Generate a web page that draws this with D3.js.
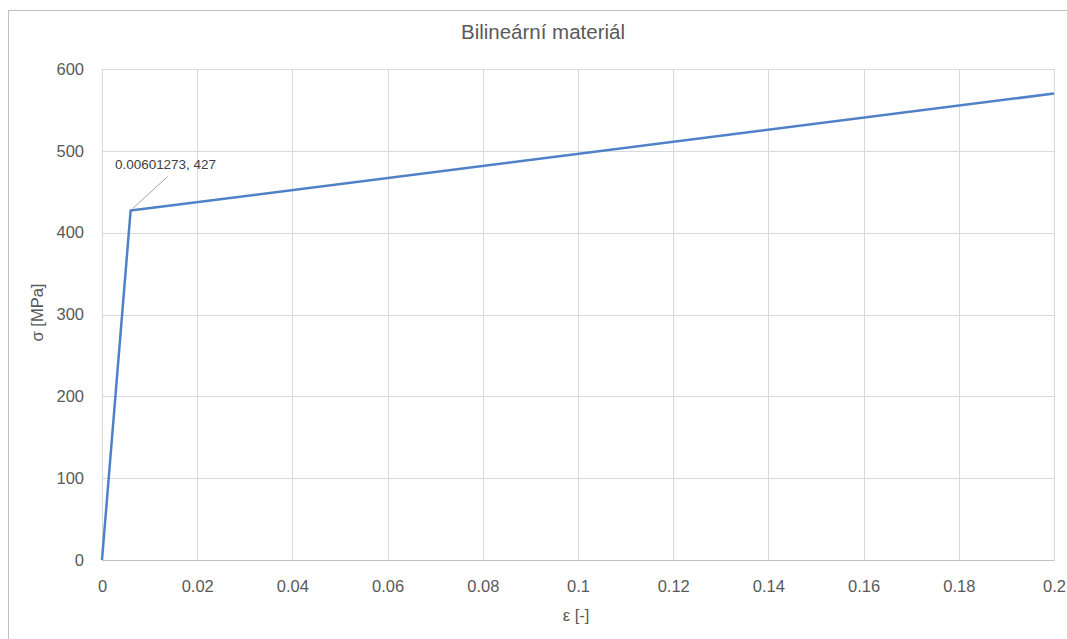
<!DOCTYPE html>
<html>
<head>
<meta charset="utf-8">
<script src="https://cdn.jsdelivr.net/npm/d3@7/dist/d3.min.js"></script>
<style>
  html, body { margin: 0; padding: 0; background: #fff; }
  svg { display: block; font-family: "Liberation Sans", "Open Sans", sans-serif; }
</style>
</head>
<body>
<svg id="chart" width="1067" height="639"></svg>
<script>
// Bilinear material model: strain [-] vs stress [MPa]
const strain = [0, 0.00601273, 0.2];
const stress = [0, 427, 570];
const xTicks = [0, 0.02, 0.04, 0.06, 0.08, 0.1, 0.12, 0.14, 0.16, 0.18, 0.2];
const yTicks = [0, 100, 200, 300, 400, 500, 600];
const title = "Bilineární materiál";
const xTitle = "ε [-]";
const yTitle = "σ [MPa]";
const pointLabel = "0.00601273, 427";

const svg = d3.select("#chart");
const W = 1067, H = 639;
const plot = { left: 102, right: 1054, top: 69, bottom: 560 };

// chart frame
svg.append("rect")
  .attr("x", 8.5).attr("y", 10.5)
  .attr("width", W + 10).attr("height", H + 10)
  .attr("fill", "#fff").attr("stroke", "#bfbfbf").attr("stroke-width", 1);

const x = d3.scaleLinear().domain([0, 0.2]).range([plot.left, plot.right]);
const y = d3.scaleLinear().domain([0, 600]).range([plot.bottom, plot.top]);

// gridlines
svg.append("g").selectAll("line").data(xTicks).join("line")
  .attr("x1", d => Math.round(x(d)) + 0.5).attr("x2", d => Math.round(x(d)) + 0.5)
  .attr("y1", plot.top).attr("y2", plot.bottom)
  .attr("stroke", "#d9d9d9").attr("stroke-width", 1);
svg.append("g").selectAll("line").data(yTicks).join("line")
  .attr("x1", plot.left).attr("x2", plot.right)
  .attr("y1", d => Math.round(y(d)) + 0.5).attr("y2", d => Math.round(y(d)) + 0.5)
  .attr("stroke", "#d9d9d9").attr("stroke-width", 1);

// axes (labels only; lines drawn as gridlines)
const xAxis = svg.append("g")
  .attr("transform", `translate(0,${plot.bottom})`)
  .call(d3.axisBottom(x).tickValues(xTicks).tickSize(0).tickPadding(20)
    .tickFormat(d => d3.format("")(+d.toFixed(2))));
xAxis.select(".domain").attr("stroke", "#bfbfbf");
xAxis.selectAll("text").attr("font-size", 16.5).attr("fill", "#595959")
  .attr("font-family", "Liberation Sans, sans-serif");

const yAxis = svg.append("g")
  .attr("transform", `translate(${plot.left},0)`)
  .call(d3.axisLeft(y).tickValues(yTicks).tickSize(0).tickPadding(18));
yAxis.select(".domain").remove();
yAxis.selectAll("text").attr("font-size", 16.5).attr("fill", "#595959")
  .attr("font-family", "Liberation Sans, sans-serif");

// data line
const pts = strain.map((s, i) => [s, stress[i]]);
svg.append("path")
  .datum(pts)
  .attr("d", d3.line().x(d => x(d[0])).y(d => y(d[1])))
  .attr("fill", "none")
  .attr("stroke", "#4f81c7")
  .attr("stroke-width", 2.5)
  .attr("stroke-linejoin", "round");

// data label with leader line at the yield point
const kx = x(strain[1]), ky = y(stress[1]);
svg.append("line")
  .attr("x1", kx + 2).attr("y1", ky - 2)
  .attr("x2", kx + 37).attr("y2", ky - 34)
  .attr("stroke", "#a6a6a6").attr("stroke-width", 1);
svg.append("text")
  .attr("x", 115).attr("y", ky - 42)
  .attr("font-size", 13.5).attr("fill", "#404040")
  .attr("font-family", "Liberation Sans, sans-serif")
  .attr("textLength", 101)
  .text(pointLabel);

// titles
svg.append("text")
  .attr("x", 543).attr("y", 39).attr("text-anchor", "middle")
  .attr("font-size", 20.5).attr("fill", "#595959")
  .attr("font-family", "Liberation Sans, sans-serif")
  .text(title);
svg.append("text")
  .attr("x", 576).attr("y", 621).attr("text-anchor", "middle")
  .attr("font-size", 16.5).attr("fill", "#595959")
  .attr("font-family", "Liberation Sans, sans-serif")
  .text(xTitle);
svg.append("text")
  .attr("transform", `translate(43,${(plot.top + plot.bottom) / 2 - 2}) rotate(-90)`)
  .attr("text-anchor", "middle")
  .attr("font-size", 16.5).attr("fill", "#595959")
  .attr("font-family", "Liberation Sans, sans-serif")
  .text(yTitle);
</script>
</body>
</html>
